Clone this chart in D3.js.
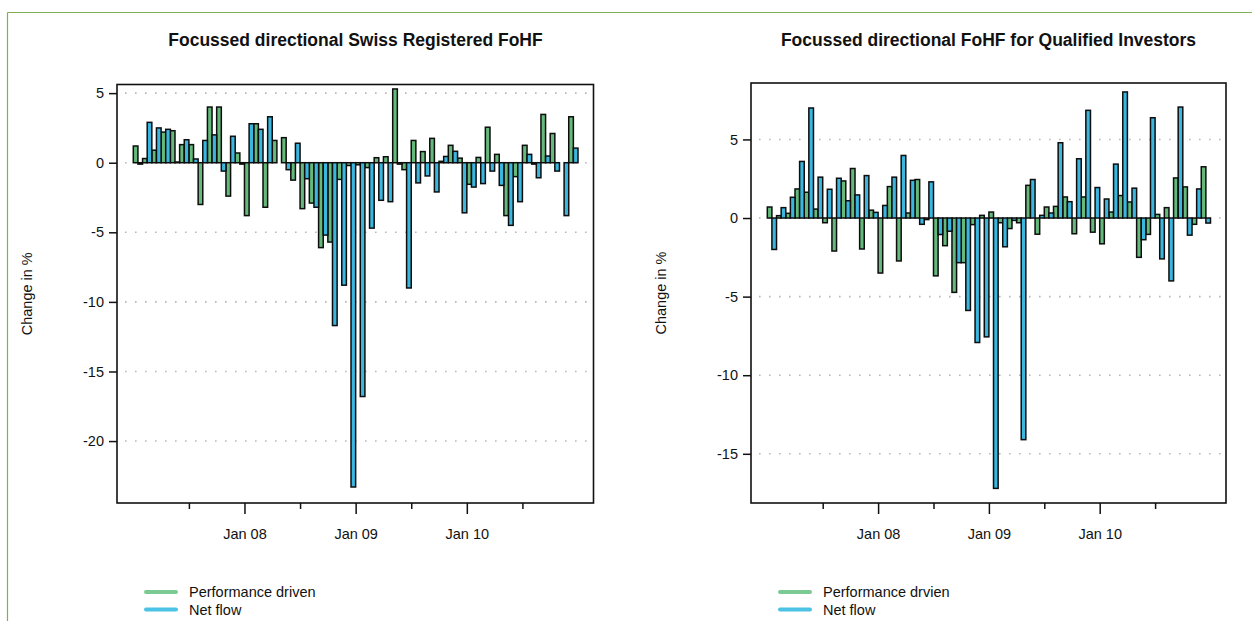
<!DOCTYPE html>
<html>
<head>
<meta charset="utf-8">
<script src="https://cdn.jsdelivr.net/npm/d3@7"></script>
<style>
  html, body { margin: 0; padding: 0; background: #fff; }
  svg { display: block; }
  text { font-family: "Liberation Sans", Arial, sans-serif; fill: #111; }
</style>
</head>
<body>
<svg id="chart" width="1252" height="621"></svg>
<script>
// ---------- DATA (monthly, Jan 07 .. Dec 10) ----------
const months = d3.range(48); // month index from Jan 2007

const titleLeft = "Focussed directional Swiss Registered FoHF";
const titleRight = "Focussed directional FoHF for Qualified Investors";

const perfLeft = [1.2, 0.3, 0.9, 2.2, 2.3, 1.3, 1.3, -3.0, 4.0, 4.0, -2.4, 0.7,
  -3.8, 2.8, -3.2, 1.6, 1.8, -1.25, -3.3, -2.9, -6.1, -5.7, -1.2, -0.2,
  -0.15, -0.35, 0.36, 0.43, 5.3, -0.5, 1.6, 0.8, 1.75, 0.1, 1.25, 0.33,
  -1.55, 0.38, 2.55, 0.6, -3.8, -1.0, 1.25, -0.1, 3.47, 2.1, 0.0, 3.3];
const flowLeft = [-0.1, 2.9, 2.5, 2.4, 0.05, 1.65, 0.27, 1.6, 2.0, -0.6, 1.9, -0.1,
  2.8, 2.4, 3.3, 0.0, -0.5, 1.4, -1.15, -3.2, -5.2, -11.7, -8.8, -23.3,
  -16.8, -4.7, -2.7, -2.8, -0.1, -9.0, -1.45, -0.95, -2.1, 0.45, 0.82, -3.6,
  -1.75, -1.5, -0.6, -1.63, -4.5, -2.8, 0.6, -1.08, 0.48, -0.6, -3.8, 1.05];

const perfRight = [0.7, 0.15, 0.3, 1.85, 1.64, 0.57, -0.3, -2.1, 2.36, 3.15, -1.97, 0.5,
  -3.5, 2.0, -2.73, 0.32, 2.45, -0.1, -3.68, -1.76, -4.73, -2.84, -0.42, 0.17,
  0.38, -0.3, -0.67, -0.3, 2.08, -1.03, 0.7, 0.74, 1.34, -1.0, 1.34, -0.9,
  -1.64, 0.38, 1.43, 1.02, -2.5, -1.04, 0.23, 0.66, 2.55, 1.98, -0.4, 3.26];
const flowRight = [-2.0, 0.66, 1.32, 3.6, 7.0, 2.6, 1.83, 2.53, 1.1, 1.47, 2.7, 0.36,
  0.8, 2.6, 3.98, 2.4, -0.4, 2.3, -1.05, -0.84, -2.84, -5.88, -7.92, -7.56,
  -17.2, -1.83, -0.15, -14.1, 2.45, 0.17, 0.32, 4.79, 1.04, 3.77, 6.85, 1.94,
  1.21, 3.43, 8.02, 1.9, -1.38, 6.38, -2.6, -4.0, 7.06, -1.09, 1.85, -0.32];

const yTicksLeft = [5, 0, -5, -10, -15, -20];
const yTicksRight = [5, 0, -5, -10, -15];
const xTickMonths = [6, 12, 18, 24, 30, 36, 42];
const xTickLabels = ["", "Jan 08", "", "Jan 09", "", "Jan 10", ""];

const legendLeft = ["Performance driven", "Net flow"];
const legendRight = ["Performance drvien", "Net flow"];
const yTitle = "Change in %";

// ---------- STYLE ----------
const GREEN = "#64b97b";
const BLUE = "#3ab6df";
const GREEN_LEG = "#7cca93";
const BLUE_LEG = "#4cc2e5";

const svg = d3.select("#chart");
svg.append("rect").attr("width", 1252).attr("height", 621).attr("fill", "#fff");

// outer frame (top & left)
svg.append("line").attr("x1", 7.5).attr("x2", 1252).attr("y1", 12.5).attr("y2", 12.5)
  .attr("stroke", "#82ae55").attr("stroke-width", 1.2);
svg.append("line").attr("x1", 7.5).attr("x2", 7.5).attr("y1", 12.5).attr("y2", 621)
  .attr("stroke", "#82ae55").attr("stroke-width", 1.2);

function drawChart(o) {
  const g = svg.append("g");
  const x = d3.scaleLinear().domain([0, 48]).range([o.left + 16.3, o.right - 15.5]);
  const y = d3.scaleLinear().domain(o.yDomain).range([o.bottom, o.top]);

  // gridlines
  g.append("g").selectAll("line").data(o.yTicks).join("line")
    .attr("x1", o.left + 8).attr("x2", o.right - 2)
    .attr("y1", d => y(d)).attr("y2", d => y(d))
    .attr("stroke", "#b8b8b8").attr("stroke-width", 1.6)
    .attr("stroke-dasharray", "1.6,8.4");

  // bars
  const bw = (x(1) - x(0)) / 2;
  const bars = g.append("g").attr("stroke", "#0d0d0d").attr("stroke-width", 1.5);
  bars.selectAll("rect.p").data(months).join("rect").attr("class", "p")
    .attr("x", i => x(i))
    .attr("width", bw)
    .attr("y", i => y(Math.max(0, o.perf[i])))
    .attr("height", i => Math.abs(y(o.perf[i]) - y(0)))
    .attr("fill", GREEN);
  bars.selectAll("rect.f").data(months).join("rect").attr("class", "f")
    .attr("x", i => x(i + 0.5))
    .attr("width", bw)
    .attr("y", i => y(Math.max(0, o.flow[i])))
    .attr("height", i => Math.abs(y(o.flow[i]) - y(0)))
    .attr("fill", BLUE);

  // box
  g.append("rect").attr("x", o.left).attr("y", o.top)
    .attr("width", o.right - o.left).attr("height", o.bottom - o.top)
    .attr("fill", "none").attr("stroke", "#111").attr("stroke-width", 1.6);

  // y axis
  const ya = g.append("g").attr("transform", `translate(${o.left},0)`)
    .call(d3.axisLeft(y).tickValues(o.yTicks).tickSize(8).tickPadding(5)
      .tickFormat(d => String(d).replace("\u2212", "-")));
  ya.select(".domain").remove();
  ya.selectAll(".tick line").attr("stroke", "#111").attr("stroke-width", 1.5);
  ya.selectAll(".tick text").style("font-size", "14.5px").style("font-family", '"Liberation Sans", Arial, sans-serif').attr("fill", "#1a1a1a");

  // x axis
  const xa = g.append("g").attr("transform", `translate(0,${o.bottom})`)
    .call(d3.axisBottom(x).tickValues(xTickMonths).tickSize(6).tickPadding(20)
      .tickFormat((d, i) => xTickLabels[i]));
  xa.select(".domain").remove();
  xa.selectAll(".tick line").attr("stroke", "#111").attr("stroke-width", 1.5)
    .attr("y2", (d, i) => xTickLabels[i] ? 11 : 6);
  xa.selectAll(".tick text").style("font-size", "14.5px").style("font-family", '"Liberation Sans", Arial, sans-serif').attr("fill", "#1a1a1a");

  // title
  g.append("text").attr("x", o.titleX).attr("y", 46).attr("text-anchor", "middle")
    .style("font-size", "17.5px").style("font-weight", "bold").text(o.title);

  // y title
  g.append("text").attr("transform", `translate(${o.left - 85},${(o.top + o.bottom) / 2}) rotate(-90)`)
    .attr("text-anchor", "middle").style("font-size", "14.5px").attr("fill", "#1a1a1a").text(yTitle);

  // legend
  const lg = g.append("g");
  [GREEN_LEG, BLUE_LEG].forEach((c, i) => {
    const yy = 592 + i * 17.5;
    lg.append("line").attr("x1", o.left + 29).attr("x2", o.left + 59)
      .attr("y1", yy).attr("y2", yy).attr("stroke", c).attr("stroke-width", 4)
      .attr("stroke-linecap", "round");
    lg.append("text").attr("x", o.left + 72).attr("y", yy + 5)
      .style("font-size", "14.5px").attr("fill", "#1a1a1a").text(o.legend[i]);
  });
}

drawChart({ left: 117, right: 593.5, top: 84.5, bottom: 503, yDomain: [-24.45, 5.62],
  yTicks: yTicksLeft, perf: perfLeft, flow: flowLeft, title: titleLeft, titleX: 355.5, legend: legendLeft });
drawChart({ left: 751, right: 1226, top: 83, bottom: 503, yDomain: [-18.13, 8.59],
  yTicks: yTicksRight, perf: perfRight, flow: flowRight, title: titleRight, titleX: 988.5, legend: legendRight });
</script>
</body>
</html>
